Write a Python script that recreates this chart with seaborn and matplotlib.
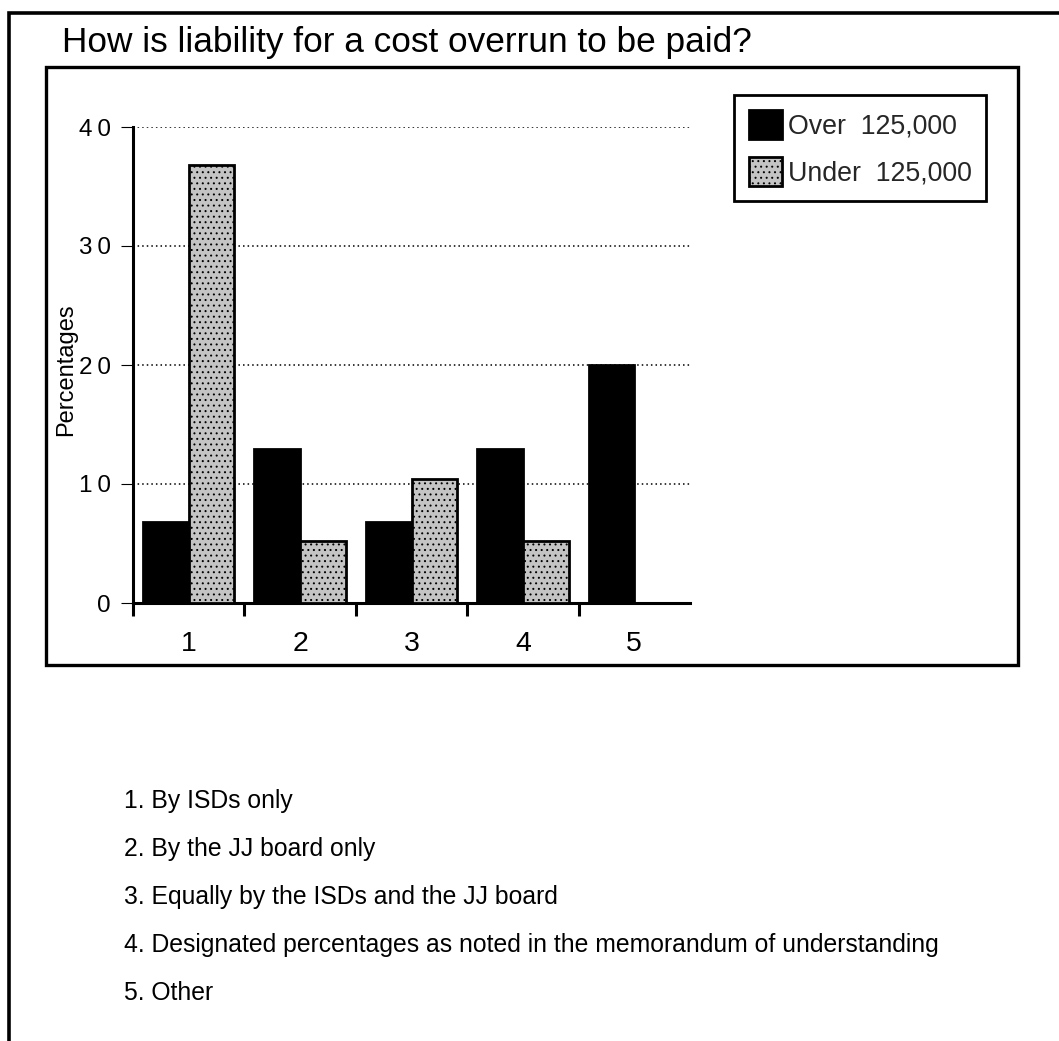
import matplotlib
matplotlib.use("Agg")
import matplotlib.pyplot as plt
import matplotlib.patches as mpatches
import seaborn as sns
import pandas as pd

# Survey answers: share of respondents in each enrollment group
item_labels = ["1", "2", "3", "4", "5"]
group_labels = ["Over  125,000", "Under  125,000"]
over_pct = [6.8, 12.9, 6.8, 12.9, 20.0]
under_pct = [36.8, 5.2, 10.4, 5.2, 0.0]
ytick_values = [0, 10, 20, 30, 40]
ytick_labels = ["0", "1\u20090", "2\u20090", "3\u20090", "4\u20090"]
answer_notes = [
    "1. By ISDs only",
    "2. By the JJ board only",
    "3. Equally by the ISDs and the JJ board",
    "4. Designated percentages as noted in the memorandum of understanding",
    "5. Other",
]
title_text = "How is liability for a cost overrun to be paid?"

df = pd.DataFrame({
    "item": item_labels * 2,
    "pct": over_pct + under_pct,
    "group": [group_labels[0]] * len(item_labels) + [group_labels[1]] * len(item_labels),
})

sns.set_theme(style="white")
plt.rcParams["font.family"] = ["Liberation Sans", "DejaVu Sans"]
plt.rcParams["hatch.linewidth"] = 0.7

W, H = 1059, 1041
fig = plt.figure(figsize=(W / 100, H / 100), dpi=100)
fig.patch.set_facecolor("white")


def fx(px):
    return px / W


def fy(py):
    return 1 - py / H


ax = fig.add_axes([fx(133), fy(603), fx(690) - fx(133), fy(127) - fy(603)])

sns.barplot(
    data=df, x="item", y="pct", hue="group", order=item_labels,
    hue_order=group_labels,
    palette={group_labels[0]: "black", group_labels[1]: "#c4c4c4"},
    saturation=1, width=0.82, edgecolor="black", linewidth=2.0,
    errorbar=None, ax=ax, zorder=3,
)

# speckled fill for the smaller-district bars
for bar in ax.containers[1]:
    bar.set_hatch("...")

ax.set_xlim(-0.5, len(item_labels) - 0.5)
ax.set_ylim(0, 40)

# dotted horizontal guides
ax.set_yticks(ytick_values)
ax.set_yticklabels(ytick_labels)
ax.yaxis.grid(True, linestyle=(0, (1, 2)), color="black", linewidth=1.1, zorder=0)
ax.xaxis.grid(False)
ax.set_axisbelow(True)

ax.tick_params(axis="y", which="major", left=True, direction="out", length=9,
               width=0.8, color="black", pad=7, labelsize=17.5, labelcolor="black")

# category labels at the centres, tick marks at the boundaries
ax.set_xticks(range(len(item_labels)))
ax.set_xticklabels(item_labels)
ax.set_xticks([i - 0.5 for i in range(len(item_labels))], minor=True)
ax.tick_params(axis="x", which="major", length=0, pad=20, labelsize=20.5, labelcolor="black")
ax.tick_params(axis="x", which="minor", bottom=True, direction="out", length=9,
               width=2.2, color="black")

for side in ["top", "right"]:
    ax.spines[side].set_visible(False)
for side in ["left", "bottom"]:
    ax.spines[side].set_linewidth(2.2)
    ax.spines[side].set_color("black")

ax.set_xlabel("")
ax.set_ylabel("Percentages", fontsize=17, color="black", va="center")
ax.yaxis.set_label_coords(-0.12, 0.49)

# legend
handles = [ax.containers[0][0], ax.containers[1][0]]
leg = ax.legend(
    handles, group_labels, loc="upper left",
    bbox_to_anchor=(fx(734), fy(95)), bbox_transform=fig.transFigure,
    fontsize=19.3, frameon=True, fancybox=False, shadow=False, framealpha=1,
    handlelength=1.25, handleheight=1.3, handletextpad=0.2,
    labelspacing=0.65, borderpad=0.55, borderaxespad=0,
)
leg.get_frame().set_edgecolor("black")
leg.get_frame().set_linewidth(2.0)
leg.get_frame().set_facecolor("white")

# title and answer key
fig.text(fx(62), fy(52), title_text, fontsize=25.4, ha="left", va="baseline", color="black")
for i, note in enumerate(answer_notes):
    fig.text(fx(124), fy(808 + 48 * i), note, fontsize=17.8, ha="left", va="baseline",
             color="black")

# page frames
outer = mpatches.Rectangle((fx(9), -0.1), 1.2, fy(13) + 0.1, transform=fig.transFigure,
                           fill=False, edgecolor="black", linewidth=2.6)
inner = mpatches.Rectangle((fx(46), fy(665)), fx(1018) - fx(46), fy(67) - fy(665),
                           transform=fig.transFigure, fill=False, edgecolor="black",
                           linewidth=2.4)
fig.patches.extend([outer, inner])

fig.savefig("out.png", dpi=100, facecolor="white")
